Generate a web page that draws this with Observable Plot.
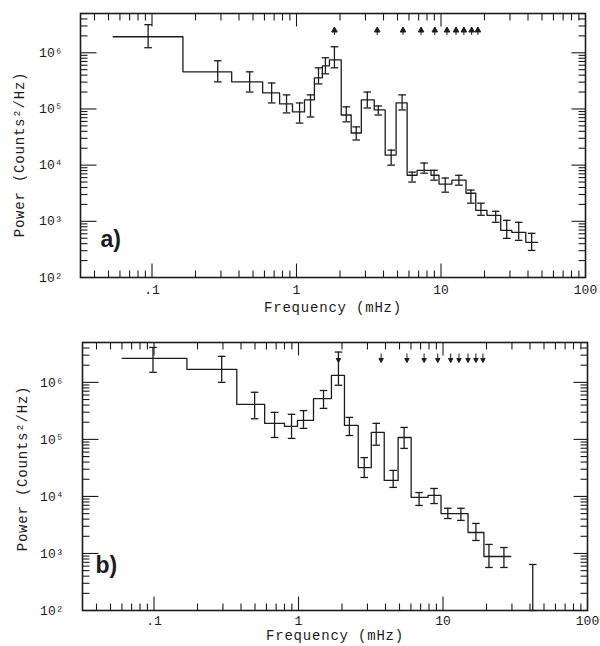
<!DOCTYPE html>
<html>
<head>
<meta charset="utf-8">
<script src="https://cdn.jsdelivr.net/npm/d3@7"></script>
<script src="https://cdn.jsdelivr.net/npm/@observablehq/plot@0.6"></script>
<style>
  html, body { margin: 0; padding: 0; background: #fff; }
  #chart svg { display: block; }
  #chart .lbl text { letter-spacing: 0.8px; }
</style>
</head>
<body>
<div id="chart"></div>
<script>
// ---------- Panel a data ----------
const aEdges = [0.0538, 0.1637, 0.356, 0.583, 0.764, 0.938, 1.136, 1.33, 1.51, 1.69, 2.04, 2.39, 2.81, 3.45, 4.11, 4.89, 5.83, 6.83, 8.53, 9.69, 11.9, 14.9, 17.4, 20.8, 25.9, 30.9, 38.6, 46.7];
const aPower = [1.93e6, 4.58e5, 3.03e5, 1.93e5, 1.23e5, 8.84e4, 1.45e5, 3.58e5, 5.86e5, 7.5e5, 7.8e4, 3.73e4, 1.45e5, 9.6e4, 1.51e4, 1.28e5, 6.6e3, 8.1e3, 6.6e3, 4.6e3, 5.4e3, 3.16e3, 1.57e3, 1.28e3, 690, 637, 422];
const aErrFreq = [0.094, 0.285, 0.474, 0.673, 0.853, 1.05, 1.25, 1.42, 1.585, 1.83, 2.21, 2.59, 3.09, 3.68, 4.52, 5.38, 6.31, 7.64, 8.95, 10.7, 13.3, 16.1, 18.9, 23.9, 28.5, 34.5, 42.4];
const aErrLo = [1.23e6, 3.03e5, 2.0e5, 1.28e5, 8.5e4, 5.6e4, 7.2e4, 2.79e5, 4.22e5, 5.4e5, 5.9e4, 2.8e4, 1.04e5, 7.8e4, 1.0e4, 9.6e4, 5.0e3, 7.2e3, 5.4e3, 3.3e3, 4.4e3, 2.1e3, 1.28e3, 960, 497, 458, 303];
const aErrHi = [3.16e6, 7.2e5, 4.58e5, 2.9e5, 1.78e5, 1.28e5, 1.78e5, 5.4e5, 8.15e5, 1.28e6, 1.09e5, 4.8e4, 2.0e5, 1.13e5, 1.85e4, 1.78e5, 7.5e3, 1.09e4, 8.1e3, 5.9e3, 6.6e3, 3.6e3, 2.1e3, 1.51e3, 1.04e3, 960, 611];
const aHarmonics = [1.83, 3.62, 5.46, 7.28, 9.06, 11.0, 12.7, 14.4, 16.3, 18.0];

// ---------- Panel b data ----------
const bEdges = [0.0602, 0.169, 0.374, 0.583, 0.80, 0.984, 1.27, 1.69, 2.08, 2.59, 3.19, 3.92, 4.89, 6.02, 7.88, 9.69, 11.9, 14.9, 19.2, 23.9, 29.4];
const bPower = [2.64e6, 1.69e6, 4.1e5, 1.91e5, 1.69e5, 2.15e5, 5.2e5, 1.33e6, 1.76e5, 3.2e4, 1.33e5, 1.91e4, 1.08e5, 9.6e3, 1.04e4, 5.0e3, 5.0e3, 2.33e3, 885, 885];
const bErrFreq = [0.0984, 0.294, 0.497, 0.683, 0.895, 1.083, 1.49, 1.89, 2.25, 2.85, 3.45, 4.52, 5.38, 6.83, 8.67, 10.8, 13.3, 16.9, 20.8, 26.4, 41.8];
const bErrLo = [1.5e6, 1.0e6, 2.3e5, 1.08e5, 1.04e5, 1.56e5, 3.5e5, 8.9e5, 1.17e5, 2.15e4, 7.9e4, 1.44e4, 6.95e4, 6.95e3, 7.5e3, 4.1e3, 3.8e3, 1.69e3, 568, 568, 100];
const bErrHi = [4.1e6, 2.86e6, 6.7e5, 2.98e5, 2.75e5, 3.2e5, 7.2e5, 3.4e6, 2.43e5, 4.8e4, 1.91e5, 2.86e4, 1.62e5, 1.17e4, 1.38e4, 6.2e3, 6.2e3, 3.36e3, 1.44e3, 1.27e3, 641];
const bHarmonics = [1.89, 3.73, 5.63, 7.4, 9.2, 11.3, 12.9, 14.9, 16.9, 18.9];

// ---------- Axes ----------
const xDomain = [0.032, 100];
const yDomain = [100, 5e6];
const xTickValues = [0.1, 1, 10, 100];
const xTickLabels = [".1", "1", "10", "100"];
const yTickValues = [1e2, 1e3, 1e4, 1e5, 1e6];
const yTickLabels = ["10²", "10³", "10⁴", "10⁵", "10⁶"];
const panelLabels = ["a)", "b)"];
const xLabel = "Frequency (mHz)";
const yLabel = "Power (Counts²/Hz)";

// minor / major tick positions for the frame
function logTicks(domain) {
  const major = [], minor = [];
  for (let e = -3; e <= 8; e++) {
    const base = Math.pow(10, e);
    for (let m = 1; m <= 9; m++) {
      const v = +(m * base).toPrecision(6);
      if (v < domain[0] * 0.999 || v > domain[1] * 1.001) continue;
      (m === 1 ? major : minor).push(v);
    }
  }
  return {major, minor};
}
const xT = logTicks(xDomain), yT = logTicks(yDomain);

// custom symbols
const seg = (dx, dy) => ({draw(ctx, size) { const l = Math.sqrt(size / Math.PI); ctx.moveTo(0, 0); ctx.lineTo(dx * l, dy * l); }});
const tickUp = seg(0, -1), tickDown = seg(0, 1), tickRight = seg(1, 0), tickLeft = seg(-1, 0);
const capSym = {draw(ctx, size) { const l = Math.sqrt(size / Math.PI); ctx.moveTo(-l, 0); ctx.lineTo(l, 0); }};
const arrowUp = {draw(ctx) { ctx.moveTo(0, -3.5); ctx.lineTo(2.8, 1.5); ctx.lineTo(-2.8, 1.5); ctx.closePath(); ctx.moveTo(0, 1.5); ctx.lineTo(0, 4.5); }};
const arrowDown = {draw(ctx) { ctx.moveTo(0, -5); ctx.lineTo(0, 1); ctx.moveTo(-2.2, 0); ctx.lineTo(0, 4); ctx.lineTo(2.2, 0); ctx.closePath(); }};

const INK = "#1c1c1c";

function panel(cfg) {
  const step = cfg.edges.slice(0, -1).map((e, i) => ({f: e, p: cfg.power[i]}));
  step.push({f: cfg.edges[cfg.edges.length - 1], p: cfg.power[cfg.power.length - 1]});
  const errs = cfg.errFreq.map((f, i) => ({f, lo: cfg.lo[i], hi: cfg.hi[i]}));
  const caps = errs.flatMap(d => [{f: d.f, v: d.lo}, {f: d.f, v: d.hi}]);
  const tickMarks = [];
  const addTicks = (vals, axis, sym, r, anchor) => tickMarks.push(
    Plot.dot(vals, axis === "x"
      ? {x: d => d, frameAnchor: anchor, symbol: sym, r, stroke: INK, fill: "none", strokeWidth: 1.1}
      : {y: d => d, frameAnchor: anchor, symbol: sym, r, stroke: INK, fill: "none", strokeWidth: 1.1}));
  addTicks(xT.minor, "x", tickUp, 7, "bottom");
  addTicks(xT.major, "x", tickUp, 14, "bottom");
  addTicks(xT.minor, "x", tickDown, 7, "top");
  addTicks(xT.major, "x", tickDown, 13, "top");
  addTicks(yT.minor, "y", tickRight, 7, "left");
  addTicks(yT.major, "y", tickRight, 16, "left");
  addTicks(yT.minor, "y", tickLeft, 7, "right");
  addTicks(yT.major, "y", tickLeft, 14, "right");

  return Plot.plot({
    width: 600,
    height: cfg.height,
    marginTop: cfg.mt, marginBottom: cfg.mb, marginLeft: cfg.ml, marginRight: cfg.mr,
    style: {fontFamily: "'Liberation Mono', 'DejaVu Sans Mono', monospace", fontSize: "13px", color: INK, background: "#fff"},
    x: {type: "log", domain: xDomain, ticks: xTickValues, tickFormat: d => xTickLabels[xTickValues.indexOf(d)], tickSize: 0, tickPadding: cfg.xpad, label: null},
    y: {type: "log", domain: yDomain, ticks: yTickValues, tickFormat: d => yTickLabels[yTickValues.indexOf(d)], tickSize: 0, tickPadding: cfg.ypad, label: null},
    marks: [
      Plot.frame({stroke: INK, strokeWidth: 1.6}),
      ...tickMarks,
      Plot.line(step, {x: "f", y: "p", curve: "step-after", stroke: INK, strokeWidth: 1.3}),
      Plot.ruleX(errs, {x: "f", y1: "lo", y2: "hi", stroke: INK, strokeWidth: 1.3}),
      Plot.dot(caps, {x: "f", y: "v", symbol: capSym, r: 3.8, stroke: INK, fill: "none", strokeWidth: 1.3}),
      Plot.dot(cfg.harm, {x: d => d, frameAnchor: "top", dy: cfg.harmDy, symbol: cfg.arrow, r: 3, stroke: INK, fill: INK, strokeWidth: 1}),
      Plot.text([cfg.tag], {frameAnchor: "bottom-left", dx: cfg.tagDx, dy: cfg.tagDy, textAnchor: "start", fontFamily: "'Liberation Sans', Arial, sans-serif", fontWeight: "bold", fontSize: 23, fill: INK}),
      Plot.text([xLabel], {frameAnchor: "bottom", dy: cfg.xlDy, textAnchor: "middle", fontSize: 14, fill: INK, className: "lbl"}),
      Plot.text([yLabel], {frameAnchor: "left", dx: cfg.ylDx, dy: cfg.ylDy, textAnchor: "middle", rotate: -90, fontSize: 14, fill: INK, className: "lbl"})
    ]
  });
}

const el = document.getElementById("chart");
el.append(panel({
  edges: aEdges, power: aPower, errFreq: aErrFreq, lo: aErrLo, hi: aErrHi, harm: aHarmonics, arrow: arrowUp,
  height: 323, mt: 13, mb: 46, ml: 80, mr: 15, xpad: 7, ypad: 18,
  harmDy: 17, tag: panelLabels[0], tagDx: 20, tagDy: -31, xlDy: 34, ylDx: -61, ylDy: 9
}));
el.append(panel({
  edges: bEdges, power: bPower, errFreq: bErrFreq, lo: bErrLo, hi: bErrHi, harm: bHarmonics, arrow: arrowDown,
  height: 323, mt: 19, mb: 36, ml: 82, mr: 13, xpad: 5, ypad: 19,
  harmDy: 16, tag: panelLabels[1], tagDx: 13, tagDy: -38, xlDy: 29, ylDx: -60, ylDy: -8
}));
</script>
</body>
</html>
